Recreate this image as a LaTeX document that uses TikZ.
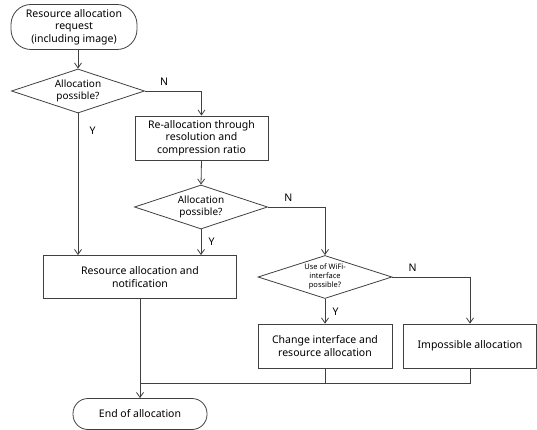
\documentclass[tikz,border=0pt]{standalone}
\usepackage{fontspec}
\setmainfont{Noto Sans}
\usetikzlibrary{shapes.geometric,arrows.meta}

\tikzset{
    line/.style={draw=black!75, line width=0.8pt},
    arrow/.style={line, -{Straight Barb[length=5pt,width=7pt]}},
    box/.style={line, rectangle, inner sep=1pt, align=center, font=\fontsize{10.5}{12.5}\selectfont},
    term/.style={box, rounded corners=15pt},
    decision/.style={line, diamond, inner sep=0pt, aspect=3, align=center, font=\fontsize{10}{12}\selectfont},
    yn/.style={font=\fontsize{10.5}{12}\selectfont}
}

\begin{document}
\begin{tikzpicture}[x=1pt, y=-1pt]
    \useasboundingbox (0,0) rectangle (537,430);
    % nodes
    \node[term, minimum width=126pt, minimum height=45pt, rounded corners=20pt] (start) at (74,27) {Resource allocation\\request\\(including image)};
    \node[decision, minimum width=133pt, minimum height=44pt] (d1) at (78,91) {Allocation\\possible?};
    \node[box, minimum width=133pt, minimum height=44pt] (realloc) at (201.5,138) {Re-allocation through\\resolution and\\compression ratio};
    \node[decision, minimum width=133pt, minimum height=44pt] (d2) at (201,207) {Allocation\\possible?};
    \node[box, minimum width=193pt, minimum height=43pt] (notify) at (140,277) {Resource allocation and\\notification};
    \node[decision, minimum width=134pt, minimum height=43pt, font=\fontsize{7.5}{9}\selectfont] (d3) at (325,277) {Use of WiFi-\\interface\\possible?};
    \node[box, minimum width=134pt, minimum height=44pt] (change) at (325,346) {Change interface and\\resource allocation};
    \node[box, minimum width=133pt, minimum height=44pt] (imposs) at (470,346) {Impossible allocation};
    \node[term, minimum width=134pt, minimum height=31pt] (end) at (140,414) {End of allocation};
    \coordinate (join) at (140,383);

    % connectors
    \draw[arrow] (start.south -| d1.north) -- (d1.north);
    \draw[arrow] (d1.south) -- (d1.south |- notify.north) node[yn, pos=0.12, right=8pt] {Y};
    \draw[arrow] (d1.east) -| (realloc.north) node[yn, pos=0.17, above=2pt] {N};
    \draw[arrow] (realloc.south) -- (d2.north);
    \draw[arrow] (d2.south) -- (d2.south |- notify.north) node[yn, midway, right=4pt] {Y};
    \draw[arrow] (d2.east) -| (d3.north) node[yn, pos=0.18, above=2pt] {N};
    \draw[arrow] (d3.south) -- (change.north) node[yn, midway, right=4pt] {Y};
    \draw[arrow] (d3.east) -| (imposs.north) node[yn, pos=0.13, above=2pt] {N};
    \draw[arrow] (notify.south) -- (end.north);
    \draw[line] (imposs.south) |- (join);
    \draw[line] (change.south) -- (change.south |- join);
\end{tikzpicture}
\end{document}
